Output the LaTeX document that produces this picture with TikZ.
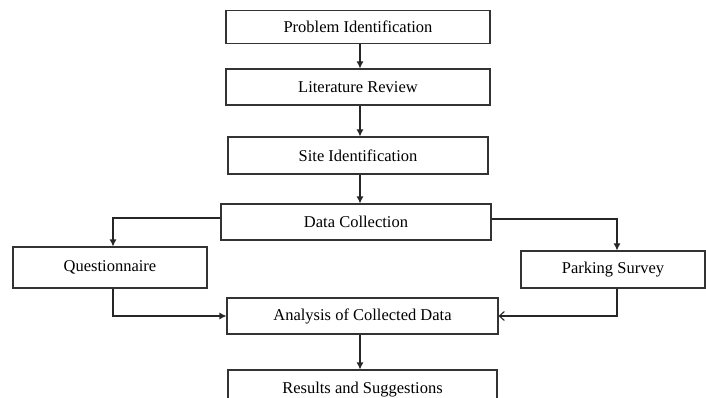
\documentclass[tikz,border=0pt]{standalone}
\usepackage{fontspec}
\setmainfont{Liberation Serif}
\usepackage{tikz}
\usetikzlibrary{arrows.meta}

\begin{document}
\begin{tikzpicture}[x=1pt,y=-1pt,
    stagebox/.style={draw=black!80, line width=1.1pt, rectangle, inner sep=0pt,
        text=black, font=\fontsize{16.5}{19}\selectfont},
    flow/.style={draw=black!85, line width=1.1pt, -{Latex[length=7pt,width=7pt]}},
    backflow/.style={draw=black!85, line width=1.1pt, -{Straight Barb[length=5pt,width=9pt]}}]
    \clip (0,0) rectangle (706,398);
    \useasboundingbox (0,0) rectangle (706,398);
    % Main column
    \node[stagebox, minimum width=264pt, minimum height=33pt] (prob) at (358, 27) {Problem Identification};
    \node[stagebox, minimum width=264pt, minimum height=36pt] (lit) at (358, 87) {Literature Review};
    \node[stagebox, minimum width=260pt, minimum height=37pt] (site) at (358, 155.5) {Site Identification};
    \node[stagebox, minimum width=270pt, minimum height=36pt] (data) at (356, 222) {Data Collection};
    % Survey branches
    \node[stagebox, minimum width=194pt, minimum height=41pt] (quest) at (110, 267.5) {Questionnaire};
    \node[stagebox, minimum width=184pt, minimum height=37pt] (park) at (613, 269.5) {Parking Survey};
    % Analysis and results
    \node[stagebox, minimum width=271pt, minimum height=36pt] (anal) at (362.5, 316) {Analysis of Collected Data};
    \node[stagebox, minimum width=269pt, minimum height=40pt] (res) at (362.5, 390) {Results and Suggestions};
    \coordinate (spine) at (360, 0);
    %
    % Sequence
    \draw[flow] (prob.south -| spine) -- (lit.north -| spine);
    \draw[flow] (lit.south -| spine) -- (site.north -| spine);
    \draw[flow] (site.south -| spine) -- (data.north -| spine);
    \draw[flow] (anal.south -| spine) -- (res.north -| spine);
    % Split into the two surveys
    \draw[flow] ([yshift=4pt]data.west) -| ([xshift=3pt]quest.north);
    \draw[flow] ([yshift=3pt]data.east) -| ([xshift=4pt]park.north);
    % Back into the analysis
    \draw[flow] ([xshift=3pt]quest.south) |- (anal.west);
    \draw[backflow] ([xshift=4pt]park.south) |- (anal.east);
\end{tikzpicture}
\end{document}
